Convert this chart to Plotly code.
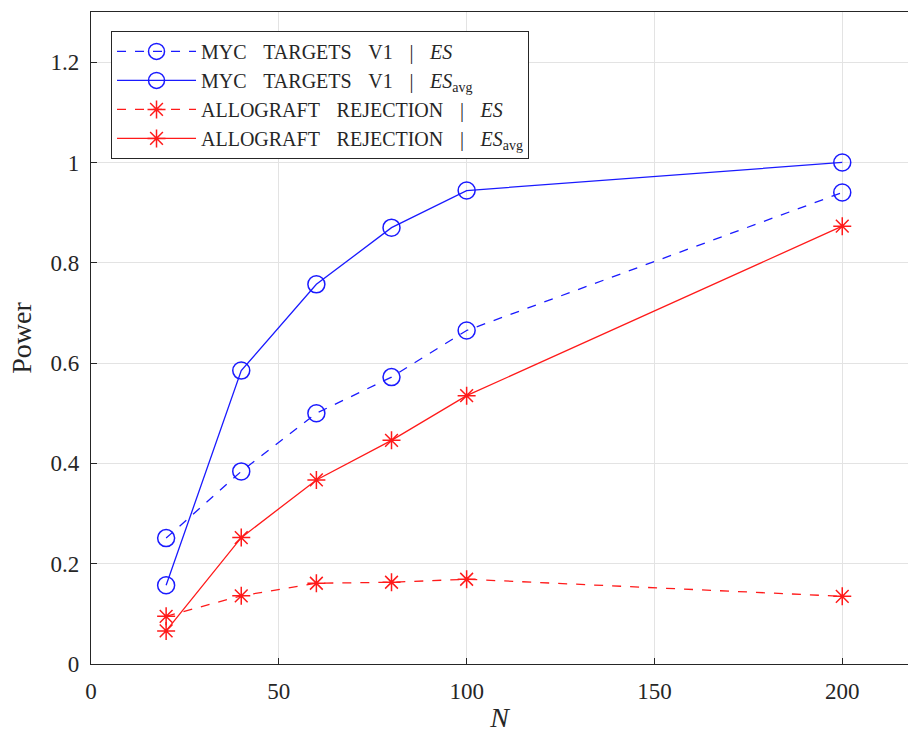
import plotly.graph_objects as go

N = [20, 40, 60, 80, 100, 200]
myc_es = [0.251, 0.384, 0.500, 0.572, 0.665, 0.940]
myc_esavg = [0.157, 0.585, 0.757, 0.870, 0.944, 1.000]
allo_es = [0.095, 0.136, 0.161, 0.163, 0.169, 0.135]
allo_esavg = [0.066, 0.252, 0.367, 0.446, 0.535, 0.873]

S = "\u2002\u2004"
names = [
    f"MYC{S}TARGETS{S}V1{S}|{S}<i>ES</i>",
    f"MYC{S}TARGETS{S}V1{S}|{S}<i>ES</i><sub>avg</sub>",
    f"ALLOGRAFT{S}REJECTION{S}|{S}<i>ES</i>",
    f"ALLOGRAFT{S}REJECTION{S}|{S}<i>ES</i><sub>avg</sub>",
]
series = [myc_es, myc_esavg, allo_es, allo_esavg]
colors = ["#1a1aff", "#1a1aff", "#ff1a1a", "#ff1a1a"]
dashes = ["dash", "solid", "dash", "solid"]
symbols = ["circle-open", "circle-open", "asterisk-open", "asterisk-open"]
sizes = [17, 17, 15, 15]

fig = go.Figure()
for nm, ys, c, d, s, sz in zip(names, series, colors, dashes, symbols, sizes):
    fig.add_trace(go.Scatter(
        x=N, y=ys, name=nm, mode="lines+markers",
        line=dict(color=c, width=1.3, dash=d),
        marker=dict(symbol=s, size=sz, color=c, line=dict(color=c, width=1.5)),
    ))

font_family = "Liberation Serif"
axis_common = dict(
    showline=True, linecolor="#262626", linewidth=1.2,
    ticks="inside", ticklen=6, tickcolor="#262626",
    showgrid=True, gridcolor="#e3e3e3", gridwidth=1,
    zeroline=False, tickfont=dict(family=font_family, size=23, color="#262626"),
)
fig.update_xaxes(range=[0, 217.5], tickvals=[0, 50, 100, 150, 200], mirror=True,
                 ticklabelstandoff=6,
                 title=dict(text="<i>N</i>", font=dict(family=font_family, size=28, color="#262626"), standoff=8),
                 **axis_common)
fig.update_yaxes(range=[0, 1.3], tickvals=[0, 0.2, 0.4, 0.6, 0.8, 1.0, 1.2], mirror=False,
                 ticktext=["0", "0.2", "0.4", "0.6", "0.8", "1", "1.2"],
                 ticklabelstandoff=6,
                 title=dict(text="Power", font=dict(family=font_family, size=28, color="#262626"), standoff=10),
                 **axis_common)
fig.update_layout(
    width=909, height=733,
    margin=dict(l=91, r=1, t=12, b=69),
    plot_bgcolor="white", paper_bgcolor="white",
    font=dict(family=font_family, color="#262626"),
    legend=dict(x=0.0245, y=0.971, xanchor="left", yanchor="top",
                bgcolor="white", bordercolor="#262626", borderwidth=1,
                font=dict(family=font_family, size=20, color="#262626"),
                tracegroupgap=0, itemwidth=79),
    showlegend=True,
)
fig.write_html("out.html")
